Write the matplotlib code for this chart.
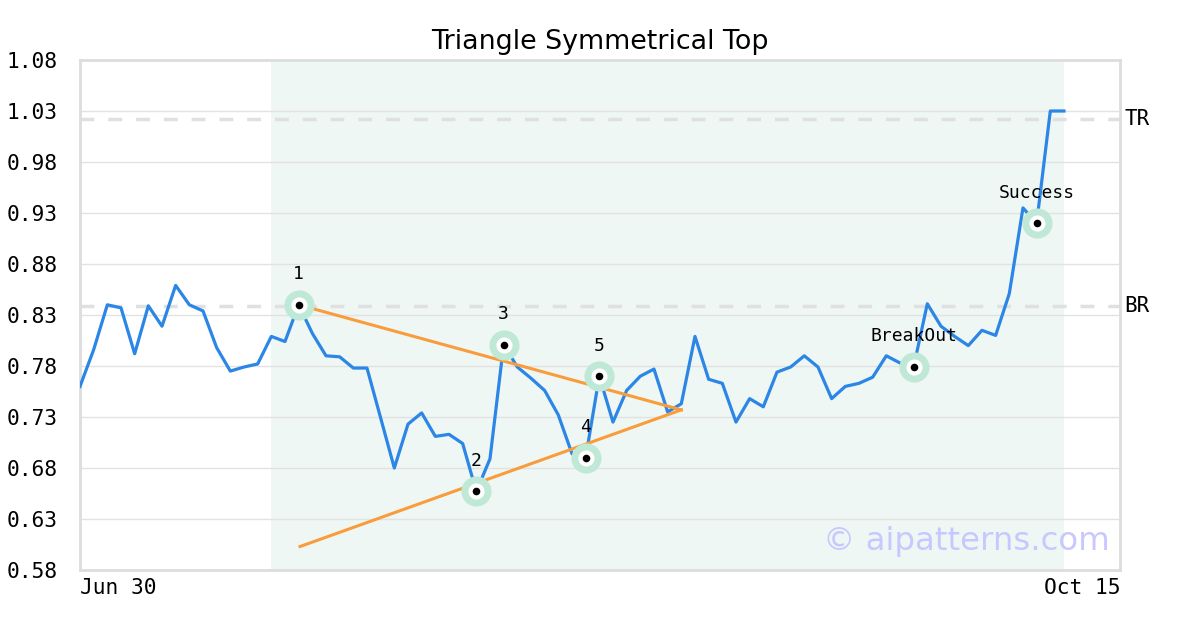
import matplotlib
matplotlib.use('Agg')
import matplotlib.pyplot as plt
import numpy as np

# closing prices, one per trading day (Jun 30 .. Oct 15)
prices = [0.760, 0.796, 0.840, 0.837, 0.792, 0.839, 0.819, 0.859, 0.840, 0.834,
          0.798, 0.775, 0.779, 0.782, 0.809, 0.804, 0.840, 0.812, 0.790, 0.789,
          0.778, 0.778, 0.729, 0.680, 0.723, 0.734, 0.711, 0.713, 0.704, 0.657,
          0.689, 0.801, 0.779, 0.768, 0.756, 0.732, 0.694, 0.690, 0.770, 0.725,
          0.756, 0.770, 0.777, 0.735, 0.743, 0.809, 0.767, 0.763, 0.725, 0.748,
          0.740, 0.774, 0.779, 0.790, 0.779, 0.748, 0.760, 0.763, 0.769, 0.790,
          0.783, 0.779, 0.841, 0.819, 0.809, 0.800, 0.815, 0.810, 0.851, 0.935,
          0.920, 1.030, 1.030]

# pattern points: (index, label)
pivot_idx = [16, 29, 31, 37, 38, 61, 70]
pivot_labels = ['1', '2', '3', '4', '5', 'BreakOut', 'Success']

# triangle trend lines (index, value)
upper_x = [16, 44.0]
upper_y = [0.840, 0.737]
lower_x = [16.1, 44.0]
lower_y = [0.603, 0.737]

top_ref = 1.022
bottom_ref = 0.839
pattern_start, pattern_end = 14, 72
x_max = 76.1

yticks = [0.58, 0.63, 0.68, 0.73, 0.78, 0.83, 0.88, 0.93, 0.98, 1.03, 1.08]
date_labels = ['Jun 30', 'Oct 15']

mono = 'DejaVu Sans Mono'

fig = plt.figure(figsize=(12, 6.3), dpi=100)
ax = fig.add_axes([80 / 1200, 60 / 630, 1040 / 1200, 510 / 630])

x = np.arange(len(prices))
ax.axvspan(pattern_start, pattern_end, color='#eff7f4', zorder=0, lw=0)

for y in yticks:
    ax.axhline(y, color='#e2e2e2', lw=1, zorder=1)

ax.axhline(top_ref, color='#e0e0e0', lw=2.5, ls=(0, (4, 4)), zorder=1)
ax.axhline(bottom_ref, color='#e0e0e0', lw=2.5, ls=(0, (4, 4)), zorder=1)

ax.plot(x, prices, color='#2b86e6', lw=2.3, zorder=3)
ax.plot(upper_x, upper_y, color='#f89c3c', lw=2.2, zorder=3)
ax.plot(lower_x, lower_y, color='#f89c3c', lw=2.2, zorder=3)

px = [x[i] for i in pivot_idx]
py = [prices[i] for i in pivot_idx]
ax.scatter(px, py, s=470, color='#bfe8d6', zorder=4, lw=0)
ax.scatter(px, py, s=135, color='white', zorder=5, lw=0)
ax.scatter(px, py, s=30, color='black', zorder=6, lw=0)
for xi, yi, lab in zip(px, py, pivot_labels):
    ax.annotate(lab, (xi, yi), xytext=(0, 22), textcoords='offset points',
                ha='center', va='center', fontsize=13, family=mono, zorder=7)

ax.text(1.004, top_ref, 'TR', transform=ax.get_yaxis_transform(),
        va='center', ha='left', fontsize=15, family=mono)
ax.text(1.004, bottom_ref, 'BR', transform=ax.get_yaxis_transform(),
        va='center', ha='left', fontsize=15, family=mono)

ax.text(0.99, 0.055, '\u00a9 aipatterns.com', transform=ax.transAxes,
        ha='right', va='center', fontsize=23.3, color='#c8c8ff', zorder=8)

ax.set_xlim(0, x_max)
ax.set_ylim(0.58, 1.08)
ax.set_yticks(yticks)
ax.set_yticklabels(['%.2f' % v for v in yticks], family=mono, fontsize=15.3)
ax.set_xticks([0, x_max])
ax.set_xticklabels(date_labels, family=mono, fontsize=15.3)
tl = ax.get_xticklabels()
tl[0].set_ha('left')
tl[1].set_ha('right')
ax.tick_params(length=0, pad=6)
ax.tick_params(axis='y', pad=16)

for s in ax.spines.values():
    s.set_color('#dddddd')
    s.set_linewidth(2)

ax.set_title('Triangle Symmetrical Top', fontsize=19.4, pad=8)

fig.savefig('out.png', dpi=100)
